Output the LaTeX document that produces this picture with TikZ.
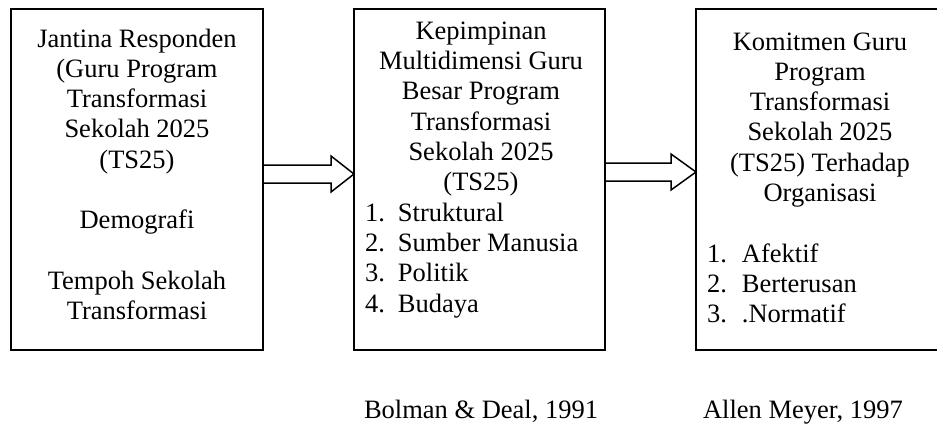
\documentclass[tikz,border=0pt]{standalone}
\usepackage{fontspec}
\setmainfont{Liberation Serif}
\usetikzlibrary{calc}
\tikzset{
  panel/.style={draw, line width=1.6pt, inner sep=0pt, outer sep=0pt},
  txt/.style={font=\rmfamily\fontsize{26.5pt}{30.3pt}\selectfont, inner sep=0pt, outer sep=0pt},
  ctxt/.style={txt, align=center, anchor=north},
  ltxt/.style={txt, align=left, anchor=north west},
  blockarrow/.style={draw, line width=1.5pt, fill=white, line join=miter}
}
\newcommand{\itm}[2]{\makebox[#1][l]{#2}}
\begin{document}
\begin{tikzpicture}[x=1pt,y=-1pt]
\useasboundingbox (0,0) rectangle (937,423);
\clip (0,0) rectangle (937,423);
% boxes
\node[panel, minimum width=252pt, minimum height=341pt] (boxL) at (137,179.5) {};
\node[panel, minimum width=251pt, minimum height=341pt] (boxM) at (479.5,179.5) {};
\node[panel, minimum width=248pt, minimum height=341pt] (boxR) at (820,179.5) {};
% texts
\node[ctxt] (tL) at (137,25.8) {\strut Jantina Responden\\(Guru Program\\Transformasi\\Sekolah 2025\\(TS25)\\[30.3pt]Demografi\\[30.3pt]Tempoh Sekolah\\Transformasi};
\node[ctxt] (tM) at (481,18.1) {\strut Kepimpinan\\Multidimensi Guru\\Besar Program\\Transformasi\\Sekolah 2025\\(TS25)};
\node[ltxt] (lM) at (365,199.9) {\strut\itm{33pt}{1.}Struktural\\\itm{33pt}{2.}Sumber Manusia\\\itm{33pt}{3.}Politik\\\itm{33pt}{4.}Budaya};
\node[ctxt] (tR) at (820,28.8) {\strut Komitmen Guru\\Program\\Transformasi\\Sekolah 2025\\(TS25) Terhadap\\Organisasi};
\node[ltxt] (lR) at (707,240.9) {\strut\itm{35pt}{1.}Afektif\\\itm{35pt}{2.}Berterusan\\\itm{35pt}{3.}.Normatif};
% citations
\node[txt, anchor=base west] (cM) at (364,418) {Bolman \& Deal, 1991};
\node[txt, anchor=base west] (cR) at (703,418) {Allen Meyer, 1997};
% block arrows
\draw[blockarrow] ([yshift=14.5pt]boxL.east) -- ++(68,0) -- ++(0,-9) -- ([yshift=5.5pt]boxM.west) -- ++(-23,18) -- ++(0,-9) -- ([yshift=-3.5pt]boxL.east) -- cycle;
\draw[blockarrow] ([yshift=16.5pt]boxM.east) -- ++(66,0) -- ++(0,-9) -- ([yshift=7.5pt]boxR.west) -- ++(-25,18) -- ++(0,-9) -- ([yshift=-1.5pt]boxM.east) -- cycle;
\end{tikzpicture}
\end{document}
